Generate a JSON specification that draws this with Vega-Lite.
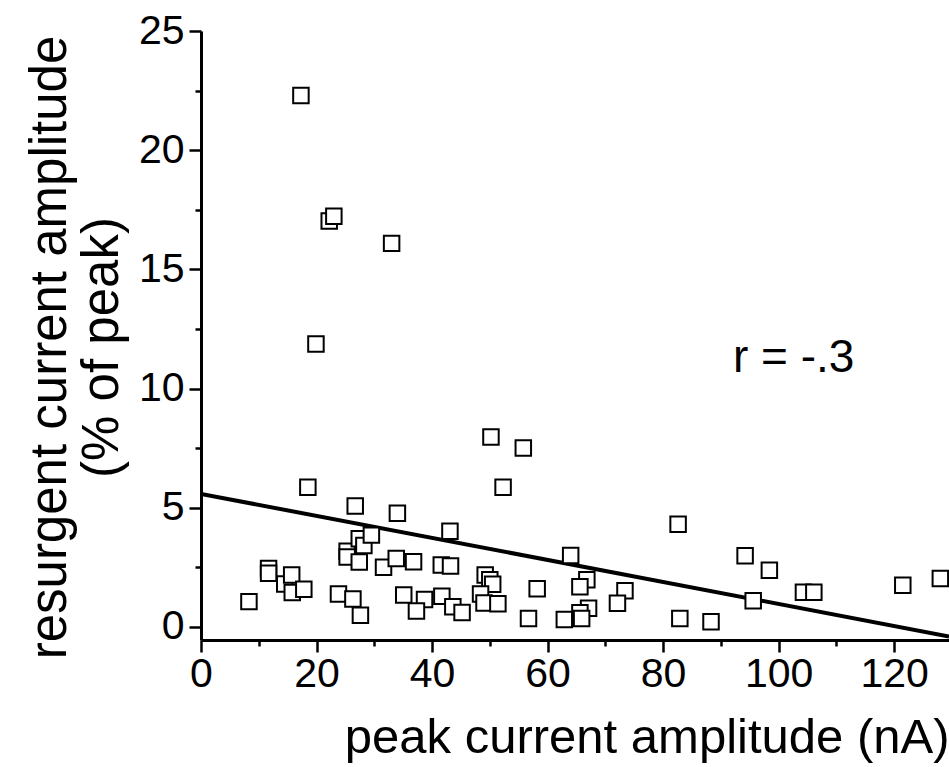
{
  "$schema": "https://vega.github.io/schema/vega-lite/v6.json",
  "width": 748,
  "height": 609,
  "autosize": {"type": "none"},
  "padding": {"left": 201, "top": 31, "right": 0, "bottom": 127},
  "background": "white",
  "config": {
    "view": {"stroke": null},
    "font": "Liberation Sans",
    "axis": {
      "grid": false,
      "labelFont": "Liberation Sans",
      "labelFontSize": 41,
      "labelColor": "black",
      "titleFont": "Liberation Sans",
      "titleFontSize": 49,
      "titleFontWeight": "normal",
      "titleColor": "black",
      "domainColor": "black",
      "domainWidth": 3,
      "tickColor": "black",
      "tickWidth": 2.5,
      "tickSize": 12
    }
  },
  "datasets": {
    "pts": [
      {"peak": 8.3, "res": 1.06}, {"peak": 11.7, "res": 2.45}, {"peak": 11.7, "res": 2.25},
      {"peak": 14.5, "res": 1.8}, {"peak": 15.7, "res": 2.18}, {"peak": 15.8, "res": 1.44},
      {"peak": 17.8, "res": 1.58}, {"peak": 18.5, "res": 5.86}, {"peak": 17.3, "res": 22.29},
      {"peak": 22.2, "res": 17.03}, {"peak": 23.0, "res": 17.23}, {"peak": 33.0, "res": 16.09},
      {"peak": 19.9, "res": 11.87}, {"peak": 23.8, "res": 1.38}, {"peak": 26.3, "res": 1.17},
      {"peak": 27.6, "res": 0.49}, {"peak": 25.3, "res": 3.17}, {"peak": 25.3, "res": 2.93},
      {"peak": 27.4, "res": 3.7}, {"peak": 28.2, "res": 3.41}, {"peak": 27.4, "res": 2.72},
      {"peak": 29.5, "res": 3.85}, {"peak": 31.6, "res": 2.5}, {"peak": 26.7, "res": 5.07},
      {"peak": 34.0, "res": 4.77}, {"peak": 43.1, "res": 4.01}, {"peak": 64.0, "res": 3.0},
      {"peak": 33.8, "res": 2.87}, {"peak": 36.8, "res": 2.73}, {"peak": 41.6, "res": 2.6},
      {"peak": 43.2, "res": 2.55}, {"peak": 49.2, "res": 2.18}, {"peak": 50.0, "res": 1.98},
      {"peak": 50.5, "res": 1.79}, {"peak": 48.4, "res": 1.38}, {"peak": 49.0, "res": 1.0},
      {"peak": 51.4, "res": 0.97}, {"peak": 58.2, "res": 1.6}, {"peak": 56.7, "res": 0.35},
      {"peak": 62.9, "res": 0.31}, {"peak": 35.1, "res": 1.34}, {"peak": 38.7, "res": 1.15},
      {"peak": 37.3, "res": 0.67}, {"peak": 41.7, "res": 1.29}, {"peak": 43.6, "res": 0.84},
      {"peak": 45.2, "res": 0.6}, {"peak": 52.3, "res": 5.86}, {"peak": 50.2, "res": 7.97},
      {"peak": 55.8, "res": 7.51}, {"peak": 82.6, "res": 4.31}, {"peak": 94.2, "res": 2.98},
      {"peak": 98.4, "res": 2.38}, {"peak": 66.8, "res": 1.98}, {"peak": 65.6, "res": 1.68},
      {"peak": 73.4, "res": 1.52}, {"peak": 72.1, "res": 0.99}, {"peak": 67.1, "res": 0.78},
      {"peak": 65.6, "res": 0.59}, {"peak": 65.9, "res": 0.35}, {"peak": 82.9, "res": 0.35},
      {"peak": 88.3, "res": 0.22}, {"peak": 95.6, "res": 1.1}, {"peak": 104.3, "res": 1.45},
      {"peak": 106.1, "res": 1.45}, {"peak": 121.5, "res": 1.75}, {"peak": 128.0, "res": 2.03}
    ],
    "fit": [
      {"peak": 0, "res": 5.58},
      {"peak": 129.5, "res": -0.4}
    ],
    "label": [
      {"peak": 92.1, "res": 11.3, "text": "r = -.3"}
    ]
  },
  "layer": [
    {
      "data": {"name": "fit"},
      "mark": {"type": "line", "color": "black", "strokeWidth": 4, "clip": true},
      "encoding": {
        "x": {
          "field": "peak", "type": "quantitative",
          "scale": {"domain": [0, 129.5], "nice": false, "zero": false},
          "axis": {
            "orient": "bottom",
            "values": [0, 20, 40, 60, 80, 100, 120],
            "title": "peak current amplitude (nA)",
            "titleAnchor": "end",
            "titlePadding": 19,
            "labelPadding": 2,
            "labelFlush": false
          }
        },
        "y": {
          "field": "res", "type": "quantitative",
          "scale": {"domain": [-0.55, 25], "nice": false, "zero": false},
          "axis": {
            "orient": "left",
            "values": [0, 5, 10, 15, 20, 25],
            "title": ["resurgent current amplitude", "(% of peak)"],
            "titleFontSize": 51,
            "titleLineHeight": 52,
            "titlePadding": 10,
            "titleY": 316,
            "labelPadding": 5,
            "labelFlush": false
          }
        }
      }
    },
    {
      "data": {"name": "pts"},
      "mark": {"type": "point", "shape": "square", "size": 240, "filled": false, "fill": "white", "fillOpacity": 1, "stroke": "black", "strokeWidth": 2, "opacity": 1},
      "encoding": {
        "x": {
          "field": "peak", "type": "quantitative",
          "axis": {
            "orient": "bottom",
            "values": [10, 30, 50, 70, 90, 110],
            "labels": false, "domain": false, "tickSize": 6, "title": null
          }
        },
        "y": {
          "field": "res", "type": "quantitative",
          "axis": {
            "orient": "left",
            "values": [2.5, 7.5, 12.5, 17.5, 22.5],
            "labels": false, "domain": false, "tickSize": 6, "title": null
          }
        }
      }
    },
    {
      "data": {"name": "label"},
      "mark": {"type": "text", "align": "left", "baseline": "middle", "fontSize": 46, "font": "Liberation Sans", "color": "black"},
      "encoding": {
        "x": {"field": "peak", "type": "quantitative", "axis": null},
        "y": {"field": "res", "type": "quantitative", "axis": null},
        "text": {"field": "text"}
      }
    }
  ],
  "resolve": {"axis": {"x": "independent", "y": "independent"}}
}
